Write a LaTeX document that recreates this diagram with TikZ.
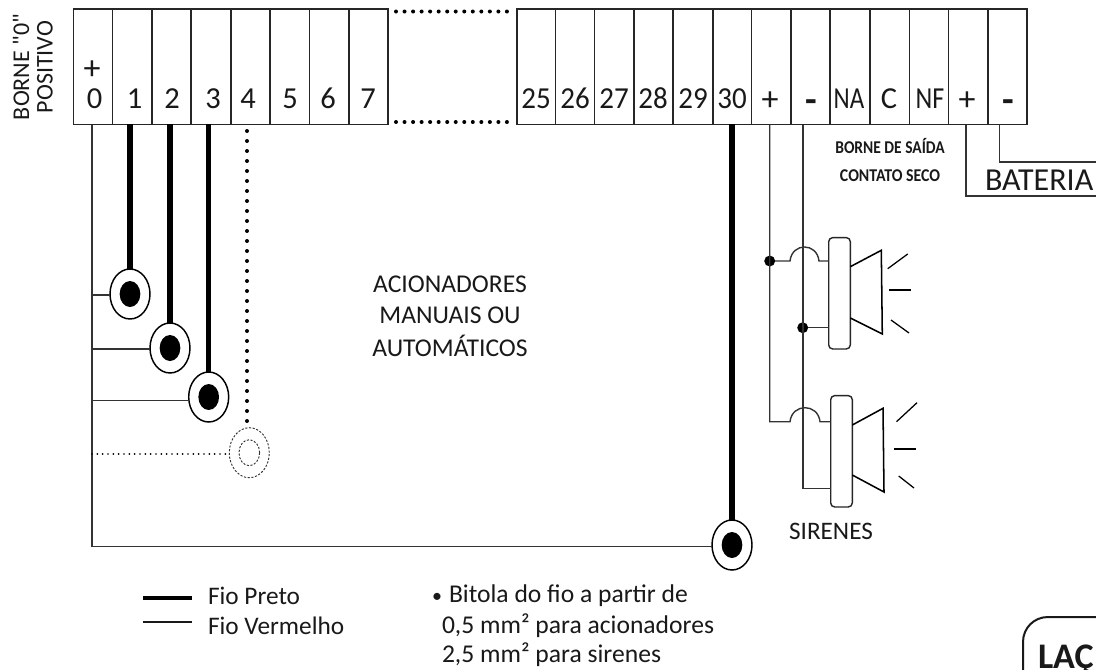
\documentclass[tikz,border=0pt]{standalone}
\usepackage{fontspec}
\setmainfont{Carlito}
\newfontfamily\plainf{Carlito}
\usetikzlibrary{shapes.geometric}
\newcommand{\fpx}[1]{\pgfmathsetmacro\fsz{#1*0.75}\fontsize{\fsz pt}{\fsz pt}\selectfont}
\newcommand{\cell}[3]{\node[cellbox,minimum width={(#3-#2)*0.75pt}] (#1) at ({(#2+#3)/2},66.75) {};}
\newcommand{\tlabel}[3]{\node[termtext] (#1) at (#2,98.5) {#3};}
\tikzset{
  x=0.75pt,y=-0.75pt,
  cellbox/.style={draw=black!85,line width=1.1pt,inner sep=0,outer sep=0,minimum height=86.6pt},
  termtext/.style={inner sep=0,outer sep=0,text=black!90,font=\fpx{30.5}},
  signtext/.style={inner sep=0,outer sep=0,text=black!90,font=\fpx{34}},
  dashtext/.style={inner sep=0,outer sep=0,text=black!90,font=\fpx{38}\bfseries},
  thinwire/.style={draw=black!80,line width=1.05pt},
  thickwire/.style={draw=black,line width=4pt},
  dotwire/.style={draw=black,line width=3pt,line cap=round,dash pattern=on 0pt off 6.4pt},
  fine dotwire/.style={draw=black,line width=1.4pt,line cap=round,dash pattern=on 0pt off 4pt},
  contact/.style={ellipse,draw=black,line width=1.1pt,fill=white,minimum width=30pt,minimum height=37.5pt,inner sep=0,outer sep=0},
  coreblack/.style={ellipse,fill=black,minimum width=15.5pt,minimum height=19.5pt,inner sep=0,outer sep=0},
  ghost/.style={ellipse,draw=black!80,line width=.7pt,dash pattern=on 1.6pt off 1.2pt,inner sep=0,outer sep=0},
  joint/.style={circle,fill=black,minimum size=8.2pt,inner sep=0,outer sep=0},
  sirenbody/.style={draw=black!85,line width=1.05pt,rounded corners=3pt,fill=white,inner sep=0,outer sep=0,minimum width=16.2pt,minimum height=83.5pt},
  horn/.style={draw=black,line width=1.15pt,line join=miter},
  ray/.style={draw=black,line width=.95pt},
  labeltext/.style={inner sep=0,outer sep=0,text=black!90,align=center},
}
\begin{document}
\begin{tikzpicture}
\path[use as bounding box,clip] (0,0) rectangle (1096,669);
\fill[white] (0,0) rectangle (1096,669);
% left terminals
\cell{t0}{73.3}{112.6}\cell{t1}{112.6}{152}\cell{t2}{152}{191}\cell{t3}{191}{231}
\cell{t4}{231}{270}\cell{t5}{270}{309.5}\cell{t6}{309.5}{349}\cell{t7}{349}{388}
% right terminals
\cell{t25}{517}{555.5}\cell{t26}{555.5}{594.7}\cell{t27}{594.7}{634}\cell{t28}{634}{673}
\cell{t29}{673}{713}\cell{t30}{713}{751.7}\cell{tsp}{751.7}{791}\cell{tsn}{791}{830}
\cell{tna}{830}{870}\cell{tc}{870}{909.5}\cell{tnf}{909.5}{948.7}\cell{tbp}{948.7}{988}\cell{tbn}{988}{1027}
% labels
\node[signtext] (plus0) at (92,70) {+};
\tlabel{l0}{94.7}{0}\tlabel{l1}{134.7}{1}\tlabel{l2}{172}{2}\tlabel{l3}{213}{3}
\tlabel{l4}{248}{4}\tlabel{l5}{290}{5}\tlabel{l6}{328}{6}\tlabel{l7}{368}{7}
\tlabel{l25}{536}{\scalebox{.95}[1]{25}}\tlabel{l26}{575}{\scalebox{.95}[1]{26}}\tlabel{l27}{614}{\scalebox{.95}[1]{27}}\tlabel{l28}{653}{\scalebox{.95}[1]{28}}
\tlabel{l29}{693}{\scalebox{.95}[1]{29}}\tlabel{l30}{732}{\scalebox{.95}[1]{30}}
\node[signtext] (lsp) at (770,101.5) {+};
\node[dashtext] (lsn) at (811,106) {-};
\tlabel{lna}{849}{\scalebox{.82}[1]{NA}}\tlabel{lc}{889}{C}\tlabel{lnf}{930}{\scalebox{.85}[1]{NF}}
\node[signtext] (lbp) at (967,101.5) {+};
\node[dashtext] (lbn) at (1008,106) {-};
% dots between the terminal groups
\coordinate (dta) at (396,11.5);\coordinate (dtb) at (511,11.5);
\coordinate (dba) at (396,122);\coordinate (dbb) at (511,122);
\draw[dotwire] (dta) -- (dtb);
\draw[dotwire] (dba) -- (dbb);
% contacts
\node[contact] (e1) at (130,294) {};
\node[contact] (e2) at (170,348) {};
\node[contact] (e3) at (208.7,397) {};
\node[contact] (e30) at (732,545) {};
\node[coreblack] (c1) at (e1) {};
\node[coreblack] (c2) at (e2) {};
\node[coreblack] (c3) at (e3) {};
\node[coreblack] (c30) at (e30) {};
\node[ghost,minimum width=30pt,minimum height=37.5pt] (e4) at (249.3,452.7) {};
\node[ghost,minimum width=15.5pt,minimum height=19.5pt] (c4) at (e4) {};
% black wires
\draw[thickwire] (e1.north |- t1.south) -- (e1.north);
\draw[thickwire] (e2.north |- t2.south) -- (e2.north);
\draw[thickwire] (e3.north |- t3.south) -- (e3.north);
\draw[thickwire] (e30.north |- t30.south) -- (e30.north);
\coordinate (d4a) at (247,131);\coordinate (d4b) at (247,422);
\draw[dotwire,dash pattern=on 0pt off 7.5pt] (d4a) -- (d4b);
% positive bus
\coordinate (busa) at (92,124.6);\coordinate (busb) at (92,546.7);
\draw[thinwire] (busa) -- (busb) -- (e30.west |- busb);
\draw[thinwire] (92,295) -- (e1.west |- 92,295);
\draw[thinwire] (92,349) -- (e2.west |- 92,349);
\draw[thinwire] (92,400.7) -- (e3.west |- 92,400.7);
\draw[fine dotwire] (92,454) -- (e4.west |- 92,454);
% sirens
\node[sirenbody] (s1) at (839.5,293.3) {};
\node[sirenbody] (s2) at (841.5,451.3) {};
\node[joint] (j1) at (769.7,261) {};
\node[joint] (j2) at (802.7,327.7) {};
\coordinate (sp) at (769.7,124.6);
\coordinate (sn) at (803,124.6);
\coordinate (lo) at (769.7,421.7);
\coordinate (ln) at (803,488.7);
\draw[thinwire] (sn) -- (ln) -- (s2.west |- ln);
\draw[thinwire] (sp) -- (lo) -- (790,421.7) .. controls (792,403) and (818,403) .. (820,421.7) -- (s2.west |- lo);
\draw[thinwire] (j1) -- (790,261) .. controls (792,242.3) and (817,242.3) .. (819,261) -- (s1.west |- j1);
\draw[thinwire] (j2) -- (s1.west |- j2);
\draw[horn] (850.3,266.7) -- (881.3,250.3) -- (882.3,334) -- (850.3,318);
\draw[horn] (852.3,425) -- (883,408.3) -- (884,492) -- (852.3,475);
\draw[ray] (887.7,268.7) -- (907.7,254);
\draw[ray] (889,290) -- (911,290);
\draw[ray] (891,320) -- (909,333);
\draw[ray] (896.5,421.7) -- (917,402.7);
\draw[ray] (894,449) -- (916,449);
\draw[ray] (898.7,476) -- (914,488);
% battery
\coordinate (bp) at (966,124.6);\coordinate (bn) at (999.6,124.6);
\coordinate (bpe) at (1096,196);\coordinate (bne) at (1096,162);
\draw[thinwire] (bp) |- (bpe);
\draw[thinwire] (bn) |- (bne);
% texts
\node[labeltext,font=\fpx{32},anchor=base west] (bat) at (985,190) {BATERIA};
\node[labeltext,font=\fpx{18}\bfseries] (saida) at (890,146) {\scalebox{.86}[1]{BORNE DE SAÍDA}};
\node[labeltext,font=\fpx{18}\bfseries] (seco) at (890,176) {\scalebox{.88}[1]{CONTATO SECO}};
\node[labeltext,font=\plainf\fpx{24},rotate=90] (bz) at (21,67) {BORNE "0"};
\node[labeltext,font=\plainf\fpx{24},rotate=90] (pos) at (45,67) {POSITIVO};
\node[labeltext,font=\fpx{25.6}] (ac1) at (450,284) {ACIONADORES};
\node[labeltext,font=\fpx{25.6}] (ac2) at (450,315) {MANUAIS OU};
\node[labeltext,font=\fpx{25.6}] (ac3) at (450,346) {AUTOMÁTICOS};
\node[labeltext,font=\fpx{25.2}] (sir) at (831,531) {SIRENES};
% legend
\coordinate (la) at (143,598);\coordinate (lb) at (192,598);
\coordinate (lc2) at (143,622);\coordinate (ld) at (192,622);
\draw[draw=black,line width=3.2pt] (la) -- (lb);
\draw[draw=black!90,line width=.9pt] (lc2) -- (ld);
\node[labeltext,font=\fpx{25.3},anchor=base west] (fp) at (208,604) {Fio Preto};
\node[labeltext,font=\fpx{25.3},anchor=base west] (fv) at (208,634) {Fio Vermelho};
\node[labeltext,font=\fpx{25.6},anchor=base west] (n0) at (432,602) {\fpx{20}\textbullet};
\node[labeltext,font=\fpx{25.6},anchor=base west] (n1) at (449,602) {Bitola do fio a partir de};
\node[labeltext,font=\fpx{25.6},anchor=base west] (n2) at (442,633) {0,5 mm² para acionadores};
\node[labeltext,font=\fpx{25.6},anchor=base west] (n3) at (442,662) {2,5 mm² para sirenes};
% corner box
\draw[draw=black!90,line width=1.5pt] (1023,680) -- (1023,642) .. controls (1023,628) and (1034,617) .. (1048,617) -- (1100,617);
\node[labeltext,font=\fpx{36}\bfseries,anchor=base west] (laco) at (1038,668) {LAÇ};
\end{tikzpicture}
\end{document}
